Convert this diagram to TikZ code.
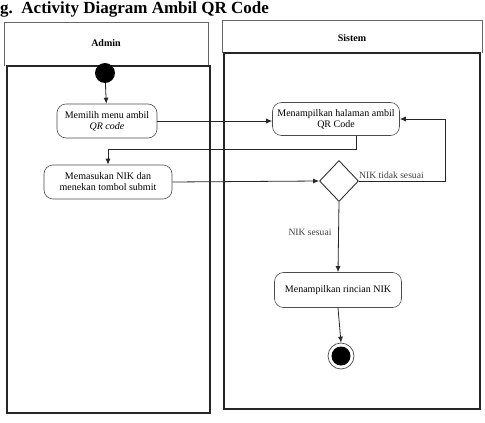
\documentclass[tikz,border=0pt]{standalone}
\usepackage{fontspec}
\setmainfont{Liberation Serif}
\usetikzlibrary{shapes.geometric,arrows.meta,positioning,calc}
\begin{document}
\begin{tikzpicture}[x=1pt,y=-1pt,
  lanehead/.style={draw=black!60,line width=0.6pt},
  lanebody/.style={draw=black!85,line width=1.4pt},
  act/.style={draw=black!70,line width=0.6pt,rounded corners=9pt,align=center,font=\fontsize{10}{11}\selectfont,inner sep=2pt},
  dec/.style={draw=black!80,line width=0.9pt,diamond,minimum width=39pt,minimum height=41pt,inner sep=0pt},
  flow/.style={draw=black!85,line width=0.8pt,-{Latex[length=6pt,width=5pt]}},
  lbl/.style={font=\fontsize{9.6}{10}\selectfont,text=black!75}]
\useasboundingbox[fill=white] (0,0) rectangle (485,423);
% title
\node[anchor=base west,inner sep=0pt,font=\fontsize{17}{18}\selectfont\bfseries] (title) at (0,13) {g.\ \ Activity Diagram Ambil QR Code};
% lanes
\draw[lanehead] (4,66) -- (4,22) -- (208,22) -- (208,66);
\draw[lanebody] (7,66) rectangle (210,413);
\node[font=\fontsize{10}{11}\selectfont\bfseries] (ladmin) at (106,43) {Admin};
\draw[lanehead] (222,53) -- (222,20) -- (482,20) -- (482,53);
\draw[lanebody] (224,53) rectangle (480,409);
\node[font=\fontsize{10}{11}\selectfont\bfseries] (lsistem) at (352,38) {Sistem};
% nodes
\node[circle,fill=black,minimum size=20pt,inner sep=0pt] (start) at (105,73) {};
\node[act,minimum width=100pt,minimum height=34pt] (a1) at (107,121) {Memilih menu ambil\\\textit{QR code}};
\node[act,minimum width=127pt,minimum height=33pt] (s1) at (336,119) {Menampilkan halaman ambil\\QR Code};
\node[act,minimum width=128pt,minimum height=34pt] (a2) at (108,182) {Memasukan NIK dan\\menekan tombol submit};
\node[dec] (d) at (339,181) {};
\node[act,minimum width=127pt,minimum height=35pt] (s2) at (338,290) {Menampilkan rincian NIK};
\node[circle,draw=black!70,line width=0.7pt,minimum size=26pt,inner sep=0pt] (endo) at (341,356) {};
\node[circle,fill=black,minimum size=19pt,inner sep=0pt] (endi) at (341,356) {};
% connectors
\draw[flow] (start) -- (a1);
\draw[flow] (a1.east) -- (s1.west |- a1.east);
\draw[flow] ([xshift=20pt]s1.south) -- ++(0,14) -| (a2.north);
\draw[flow] (a2.east) -- (d.west);
\draw[flow] (d.east) -- ++(86,0) |- (s1.east);
\node[lbl,anchor=south west,inner sep=1pt] (ltidak) at (358,180) {NIK tidak sesuai};
\draw[flow] (d.south) -- (s2.north);
\node[lbl] (lsesuai) at (310,232) {NIK sesuai};
\draw[flow] (s2.south) -- (endo.north);
\end{tikzpicture}
\end{document}
